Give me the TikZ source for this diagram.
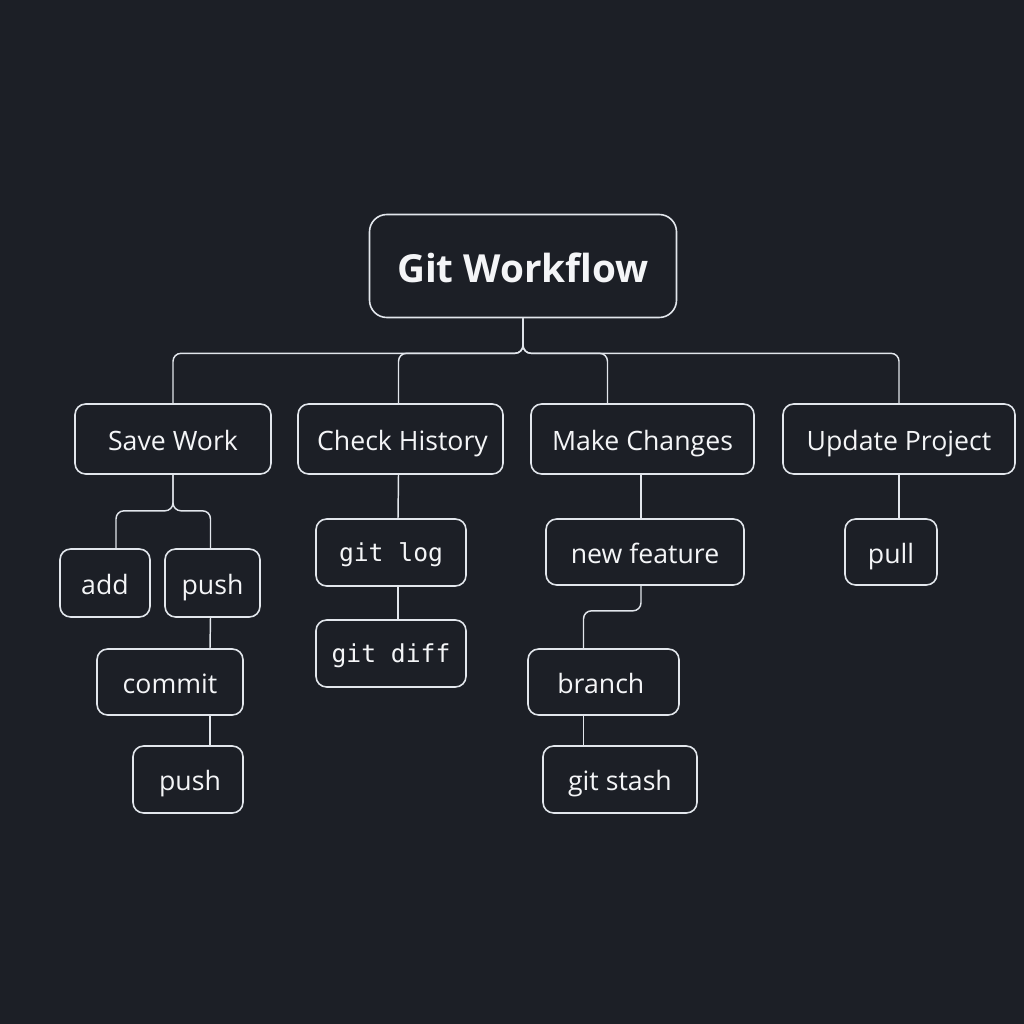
\documentclass[tikz,border=0pt]{standalone}
\usepackage{fontspec}
\setmainfont{Open Sans}
\newfontfamily\monof{DejaVu Sans Mono}
\usetikzlibrary{calc}
\definecolor{bgc}{HTML}{1C1F26}
\definecolor{linec}{HTML}{E2E6EC}
\definecolor{txtc}{HTML}{F4F5F7}
\tikzset{
  box/.style={draw=linec, line width=1.2pt, fill=bgc, rounded corners=8pt, inner sep=0pt, text=txtc,
    font=\fontsize{20}{23}\selectfont, text height=20pt, text depth=3.5pt},
  rootbox/.style={box, rounded corners=13pt, font=\fontsize{29}{34}\selectfont\bfseries, text height=28pt, text depth=4pt},
  monobox/.style={box, font=\fontsize{18.5}{21}\selectfont\monof, text height=17pt, text depth=3pt},
  conn/.style={draw=linec, line width=1.1pt, rounded corners=6pt}
}
\begin{document}
\begin{tikzpicture}[x=0.75pt,y=-0.75pt]
\fill[bgc] (0,0) rectangle (1024,1024);
\useasboundingbox (0,0) rectangle (1024,1024);

\node[rootbox, minimum width=230.25pt, minimum height=77.25pt] (root) at (523,266) {Git Workflow};

\node[box, minimum width=147pt, minimum height=52.5pt] (sw) at (173,439) {Save Work};
\node[box, minimum width=153.75pt, minimum height=52.5pt] (ch) at (400.5,439) {\hspace*{3pt}Check History};
\node[box, minimum width=167.25pt, minimum height=52.5pt] (mc) at (642.5,439) {Make Changes};
\node[box, minimum width=174pt, minimum height=52.5pt] (up) at (899,439) {Update Project};

\node[box, minimum width=67.5pt, minimum height=51pt] (add) at (105,583) {add};
\node[box, minimum width=71.25pt, minimum height=51pt] (pusha) at (212.5,583) {push};
\node[box, minimum width=109.5pt, minimum height=49.5pt] (commit) at (170,682) {commit};
\node[box, minimum width=82.5pt, minimum height=50.25pt] (pushb) at (188,779.5) {\hspace*{3pt}push};

\node[monobox, minimum width=112.5pt, minimum height=50.25pt] (log) at (391,552.5) {git log};
\node[monobox, minimum width=112.5pt, minimum height=50.25pt] (diff) at (391,653.5) {git diff};

\node[box, minimum width=148.5pt, minimum height=49.5pt] (nf) at (645,552) {new feature};
\node[box, minimum width=113.25pt, minimum height=49.5pt] (br) at (603.5,682) {branch\hspace*{4pt}};
\node[box, minimum width=115.5pt, minimum height=50.25pt] (st) at (620,779.5) {git stash};

\node[box, minimum width=69pt, minimum height=49.5pt] (pull) at (891,552) {pull};

% top level bus
\coordinate (bus) at ($(root.south)+(0,35)$);
\draw[conn] (root.south) -- (bus) -| (sw.north);
\draw[conn] (root.south) -- (bus) -| ($(ch.north)+(-2,0)$);
\draw[conn] (root.south) -- (bus) -| ($(mc.north)+(-35,0)$);
\draw[conn] (root.south) -- (bus) -| (up.north);

% save work branch
\coordinate (swsplit) at ($(sw.south)+(0,36)$);
\draw[conn] (sw.south) -- (swsplit) -| ($(add.north)+(11,0)$);
\draw[conn] (sw.south) -- (swsplit) -| ($(pusha.north)+(-2,0)$);
\draw[conn] ($(pusha.south)+(-2,0)$) -- ($(commit.north)+(40,0)$);
\draw[conn] ($(commit.south)+(40,0)$) -- ($(pushb.north)+(22,0)$);

% check history
\draw[conn] ($(ch.south)+(-2,0)$) -- ($(log.north)+(7,0)$);
\draw[conn] ($(log.south)+(7,0)$) -- ($(diff.north)+(7,0)$);

% make changes
\draw[conn] ($(mc.south)+(-1.5,0)$) -- ($(nf.north)+(-4,0)$);
\coordinate (nfbend) at ($(nf.south)+(-4,25)$);
\draw[conn] ($(nf.south)+(-4,0)$) -- (nfbend) -| ($(br.north)+(-20,0)$);
\draw[conn] ($(br.south)+(-20,0)$) -- ($(st.north)+(-36.5,0)$);

% update project
\draw[conn] (up.south) -- ($(pull.north)+(8,0)$);
\end{tikzpicture}
\end{document}
